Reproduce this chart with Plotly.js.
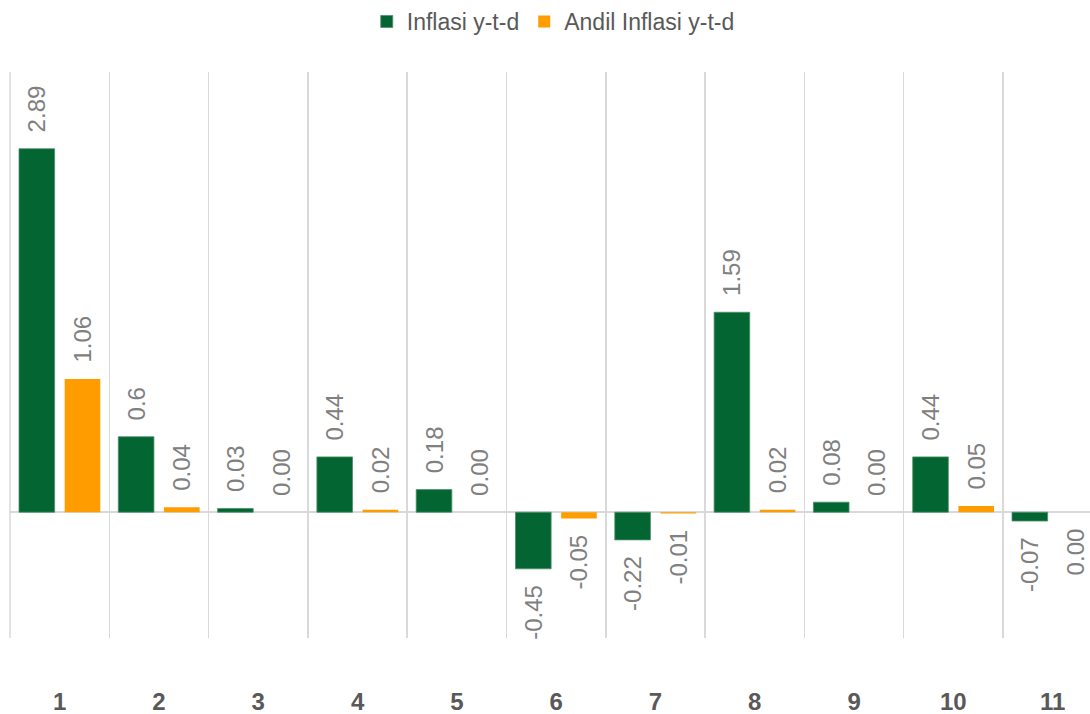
<!DOCTYPE html>
<html>
<head>
<meta charset="utf-8">
<script src="https://cdn.plot.ly/plotly-3.0.1.min.js"></script>
<style>html,body{margin:0;padding:0;background:#fff;}#chart{width:1090px;height:714px;}</style>
</head>
<body>
<div id="chart"></div>
<script>
const categories = ["1","2","3","4","5","6","7","8","9","10","11"];
const inflasiYtd = [2.89, 0.6, 0.03, 0.44, 0.18, -0.45, -0.22, 1.59, 0.08, 0.44, -0.07];
const inflasiYtdLabels = ["2.89","0.6","0.03","0.44","0.18","-0.45","-0.22","1.59","0.08","0.44","-0.07"];
const andilYtd = [1.06, 0.04, 0.00, 0.02, 0.00, -0.05, -0.01, 0.02, 0.00, 0.05, -0.001];
const andilYtdLabels = ["1.06","0.04","0.00","0.02","0.00","-0.05","-0.01","0.02","0.00","0.05","0.00"];

// small gap between bar end and its rotated label
const NB = "\u00a0\u00a0";
function padLabels(vals, labels) {
  return labels.map((t, i) => vals[i] >= 0 ? NB + t : t + NB);
}

const labelFont = {family: "Liberation Sans, Arial, sans-serif", size: 24, color: "#808080"};

const traces = [
  {
    type: "bar", name: "Inflasi y-t-d", x: categories, y: inflasiYtd,
    text: padLabels(inflasiYtd, inflasiYtdLabels), textposition: "outside", textangle: -90,
    textfont: labelFont, constraintext: "none", cliponaxis: false,
    marker: {color: "#036532", line: {color: "#4e8f6a", width: 0.8}},
    hoverinfo: "x+y"
  },
  {
    type: "bar", name: "Andil Inflasi y-t-d", x: categories, y: andilYtd,
    text: padLabels(andilYtd, andilYtdLabels), textposition: "outside", textangle: -90,
    textfont: labelFont, constraintext: "none", cliponaxis: false,
    marker: {color: "#FF9C00"},
    hoverinfo: "x+y"
  }
];

const layout = {
  width: 1090, height: 714,
  margin: {l: 10, r: 0, t: 71, b: 76},
  paper_bgcolor: "#ffffff", plot_bgcolor: "#ffffff",
  barmode: "group", bargap: 0.08, bargroupgap: 0.22,
  showlegend: true,
  legend: {
    orientation: "h", x: 0.503, xanchor: "center", y: 1.09, yanchor: "middle",
    font: {family: "Liberation Sans, Arial, sans-serif", size: 23, color: "#595959"},
    itemwidth: 30, traceorder: "normal"
  },
  xaxis: {
    type: "category", range: [-0.5, 10.376], tickson: "boundaries",
    showgrid: true, gridcolor: "#d9d9d9", gridwidth: 1.5,
    showline: false, zeroline: false, ticks: "",
    ticklabelstandoff: 47,
    tickfont: {family: "Liberation Sans, Arial, sans-serif", size: 24, color: "#595959", weight: "bold"}
  },
  yaxis: {
    range: [-1, 3.5], showgrid: false, showticklabels: false, ticks: "",
    showline: false, zeroline: true, zerolinecolor: "#d9d9d9", zerolinewidth: 1.5
  },
  shapes: [
    {type: "line", xref: "paper", yref: "paper", x0: 0, x1: 0, y0: 0, y1: 1,
     line: {color: "#d9d9d9", width: 1.5}, layer: "below"}
  ]
};

Plotly.newPlot("chart", traces, layout, {displayModeBar: false, staticPlot: true});
</script>
</body>
</html>
